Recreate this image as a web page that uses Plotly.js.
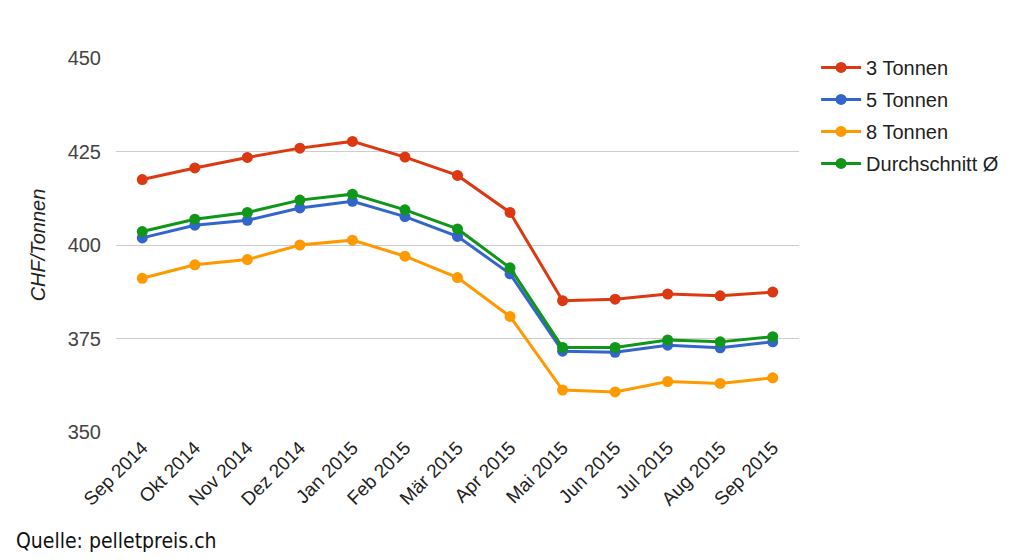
<!DOCTYPE html>
<html><head><meta charset="utf-8">
<script src="https://cdn.plot.ly/plotly-3.0.1.min.js"></script>
<style>html,body{margin:0;padding:0;background:#fff}#chart{width:1024px;height:560px}</style>
</head><body><div id="chart"></div>
<script>
const months = ["Sep 2014","Okt 2014","Nov 2014","Dez 2014","Jan 2015","Feb 2015","Mär 2015","Apr 2015","Mai 2015","Jun 2015","Jul 2015","Aug 2015","Sep 2015"];
const t3 = [417.5,420.6,423.4,425.9,427.7,423.5,418.6,408.7,385.1,385.5,386.9,386.4,387.4];
const t5 = [401.9,405.3,406.6,409.9,411.7,407.6,402.3,392.3,371.6,371.3,373.2,372.5,374.1];
const t8 = [391.1,394.7,396.1,400.0,401.3,397.0,391.3,380.9,361.2,360.7,363.5,363.0,364.5];
const avg = [403.6,406.9,408.7,412.0,413.6,409.4,404.3,393.9,372.6,372.6,374.6,374.1,375.5];
const names = ["3 Tonnen","5 Tonnen","8 Tonnen","Durchschnitt Ø"];
const colors = ["#dc3912","#3366cc","#ff9900","#109618"];
const series = [t3,t5,t8,avg];
const traces = series.map((s,i)=>({
  x: months, y: s, name: names[i], type: "scatter", mode: "lines+markers",
  legendgroup: "g" + i,
  line: {color: colors[i], width: 3}, marker: {color: colors[i], size: 11}
}));
const layout = {
  width: 1024, height: 560,
  margin: {l: 116, r: 225, t: 58, b: 128},
  paper_bgcolor: "#fff", plot_bgcolor: "#fff",
  font: {family: "Liberation Sans, Arial, sans-serif", color: "#222"},
  xaxis: {type: "category", range: [-0.5, 12.5], tickangle: -45, showgrid: false, zeroline: false,
    tickfont: {size: 19, color: "#222"}, ticks: "", showline: false},
  yaxis: {range: [350, 450], tickvals: [350,375,400,425,450], showgrid: true, gridcolor: "#cccccc",
    zeroline: false, tickfont: {size: 20, color: "#444"}, ticks: "", ticklen: 0, ticklabelstandoff: 14,
    title: {text: "<i>CHF/Tonnen</i>", font: {size: 20, color: "#222"}, standoff: 16}},
  legend: {x: 1.025, xanchor: "left", y: 1.027, yanchor: "top", font: {size: 20, color: "#222"},
    tracegroupgap: 3, itemwidth: 40},
  annotations: [{text: "Quelle: pelletpreis.ch", xref: "paper", yref: "paper", x: -0.1493, y: -0.2914,
    xanchor: "left", yanchor: "middle", showarrow: false, font: {family: "DejaVu Sans Condensed, DejaVu Sans", size: 21, color: "#111"}}]
};
Plotly.newPlot("chart", traces, layout, {displayModeBar: false});
</script></body></html>
